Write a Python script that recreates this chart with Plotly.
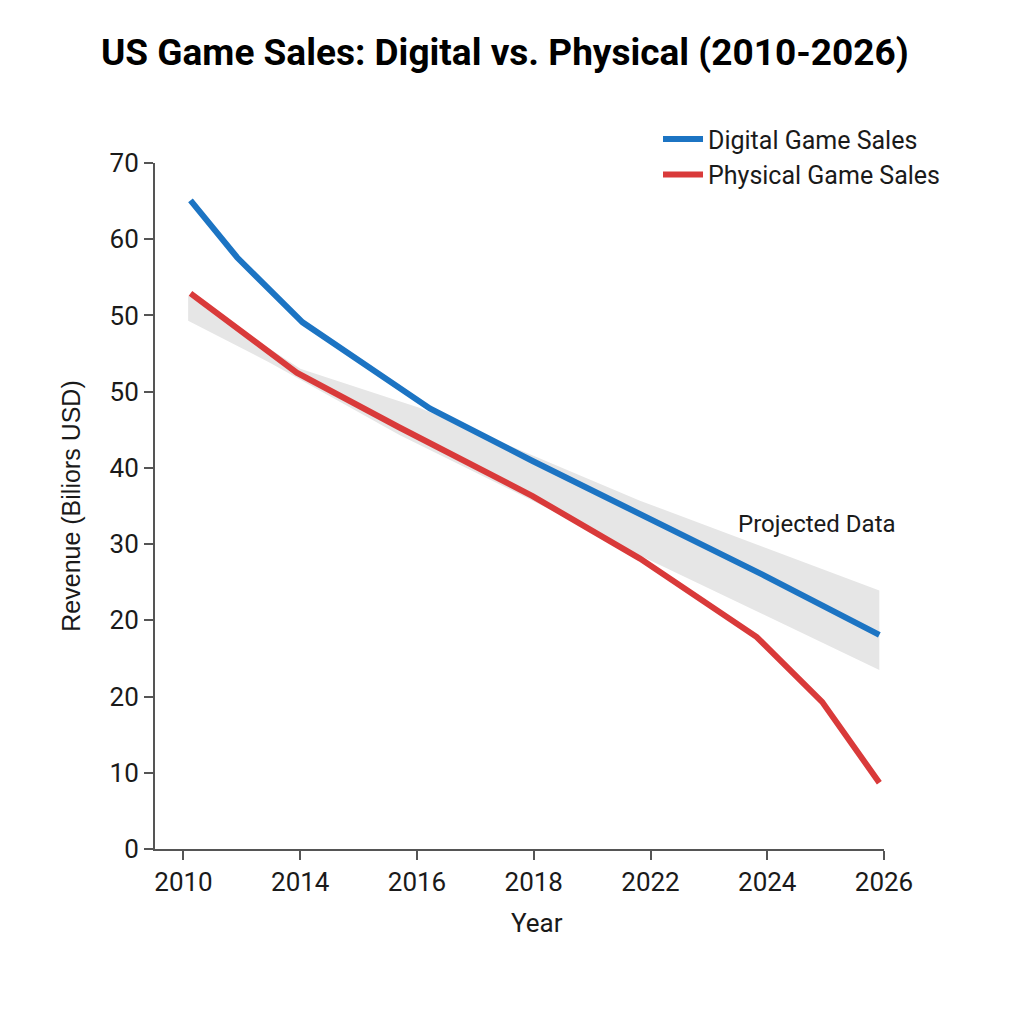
import plotly.graph_objects as go

# Axis tick labels (as printed in the reference)
x_tick_labels = ["2010", "2014", "2016", "2018", "2022", "2024", "2026"]
y_tick_labels = ["0", "10", "20", "20", "30", "40", "50", "50", "60", "70"]

# Series values, expressed in axis tick-position units
digital_x = [0.06, 0.46, 1.02, 1.85, 2.11, 2.99, 3.98, 4.96, 5.96]
digital_y = [8.51, 7.76, 6.91, 6.04, 5.78, 5.09, 4.35, 3.60, 2.81]

physical_x = [0.06, 0.97, 1.85, 2.99, 3.91, 4.91, 5.47, 5.96]
physical_y = [7.29, 6.25, 5.53, 4.63, 3.81, 2.78, 1.93, 0.87]

band_upper_x = [0.04, 1.00, 2.02, 2.99, 3.91, 5.96]
band_upper_y = [7.26, 6.30, 5.79, 5.16, 4.57, 3.39]
band_lower_x = [0.04, 0.74, 1.85, 2.99, 3.91, 5.96]
band_lower_y = [6.93, 6.38, 5.43, 4.57, 3.85, 2.35]

FONT = "Roboto"
TXT = "#1a1a1a"

fig = go.Figure()

fig.add_trace(go.Scatter(
    x=band_upper_x + band_lower_x[::-1],
    y=band_upper_y + band_lower_y[::-1],
    fill="toself", fillcolor="#e6e6e6",
    line=dict(width=0), mode="lines",
    showlegend=False, hoverinfo="skip",
))

fig.add_trace(go.Scatter(
    x=digital_x, y=digital_y, mode="lines", name="Digital Game Sales",
    line=dict(color="#1c74c3", width=6),
))
fig.add_trace(go.Scatter(
    x=physical_x, y=physical_y, mode="lines", name="Physical Game Sales",
    line=dict(color="#d93a3a", width=6),
))

fig.add_annotation(
    x=5.43, y=4.26, xref="x", yref="y", text="Projected Data",
    showarrow=False, font=dict(family=FONT, size=24, color=TXT),
)

# x-axis title placed as annotation (slightly right of centre as in reference)
fig.add_annotation(
    x=(537 - 155) / 729, y=-74 / 686, xref="paper", yref="paper",
    text="Year", showarrow=False, xanchor="center", yanchor="middle",
    font=dict(family=FONT, size=26, color=TXT),
)

fig.update_layout(
    width=1024, height=1024,
    paper_bgcolor="white", plot_bgcolor="white",
    margin=dict(l=155, r=140, t=163, b=175),
    title=dict(
        text="<b>US Game Sales: Digital vs. Physical (2010-2026)</b>",
        x=0.493, xanchor="center", y=0.949, yanchor="middle",
        font=dict(family=FONT, size=37, color="#000000"),
    ),
    font=dict(family=FONT, color=TXT),
    legend=dict(
        x=0.69, y=1.068, xanchor="left", yanchor="top",
        font=dict(family=FONT, size=25, color=TXT),
        bgcolor="rgba(0,0,0,0)", tracegroupgap=0, itemwidth=40,
    ),
    xaxis=dict(
        range=[-0.244, 6.0],
        tickmode="array", tickvals=list(range(len(x_tick_labels))),
        ticktext=x_tick_labels,
        showgrid=False, zeroline=False,
        showline=True, linecolor="#555555", linewidth=2,
        ticks="outside", ticklen=9, tickwidth=1.5, tickcolor="#555555",
        tickfont=dict(family=FONT, size=26, color=TXT),
    ),
    yaxis=dict(
        range=[0, 9],
        tickmode="array", tickvals=list(range(len(y_tick_labels))),
        ticktext=y_tick_labels,
        showgrid=False, zeroline=False,
        showline=True, linecolor="#555555", linewidth=2,
        ticks="outside", ticklen=9, tickwidth=1.5, tickcolor="#555555",
        tickfont=dict(family=FONT, size=26, color=TXT),
        title=dict(text="Revenue (Biliors USD)",
                   font=dict(family="Liberation Sans", size=25, color=TXT), standoff=22),
    ),
)

fig.write_html("out.html")
